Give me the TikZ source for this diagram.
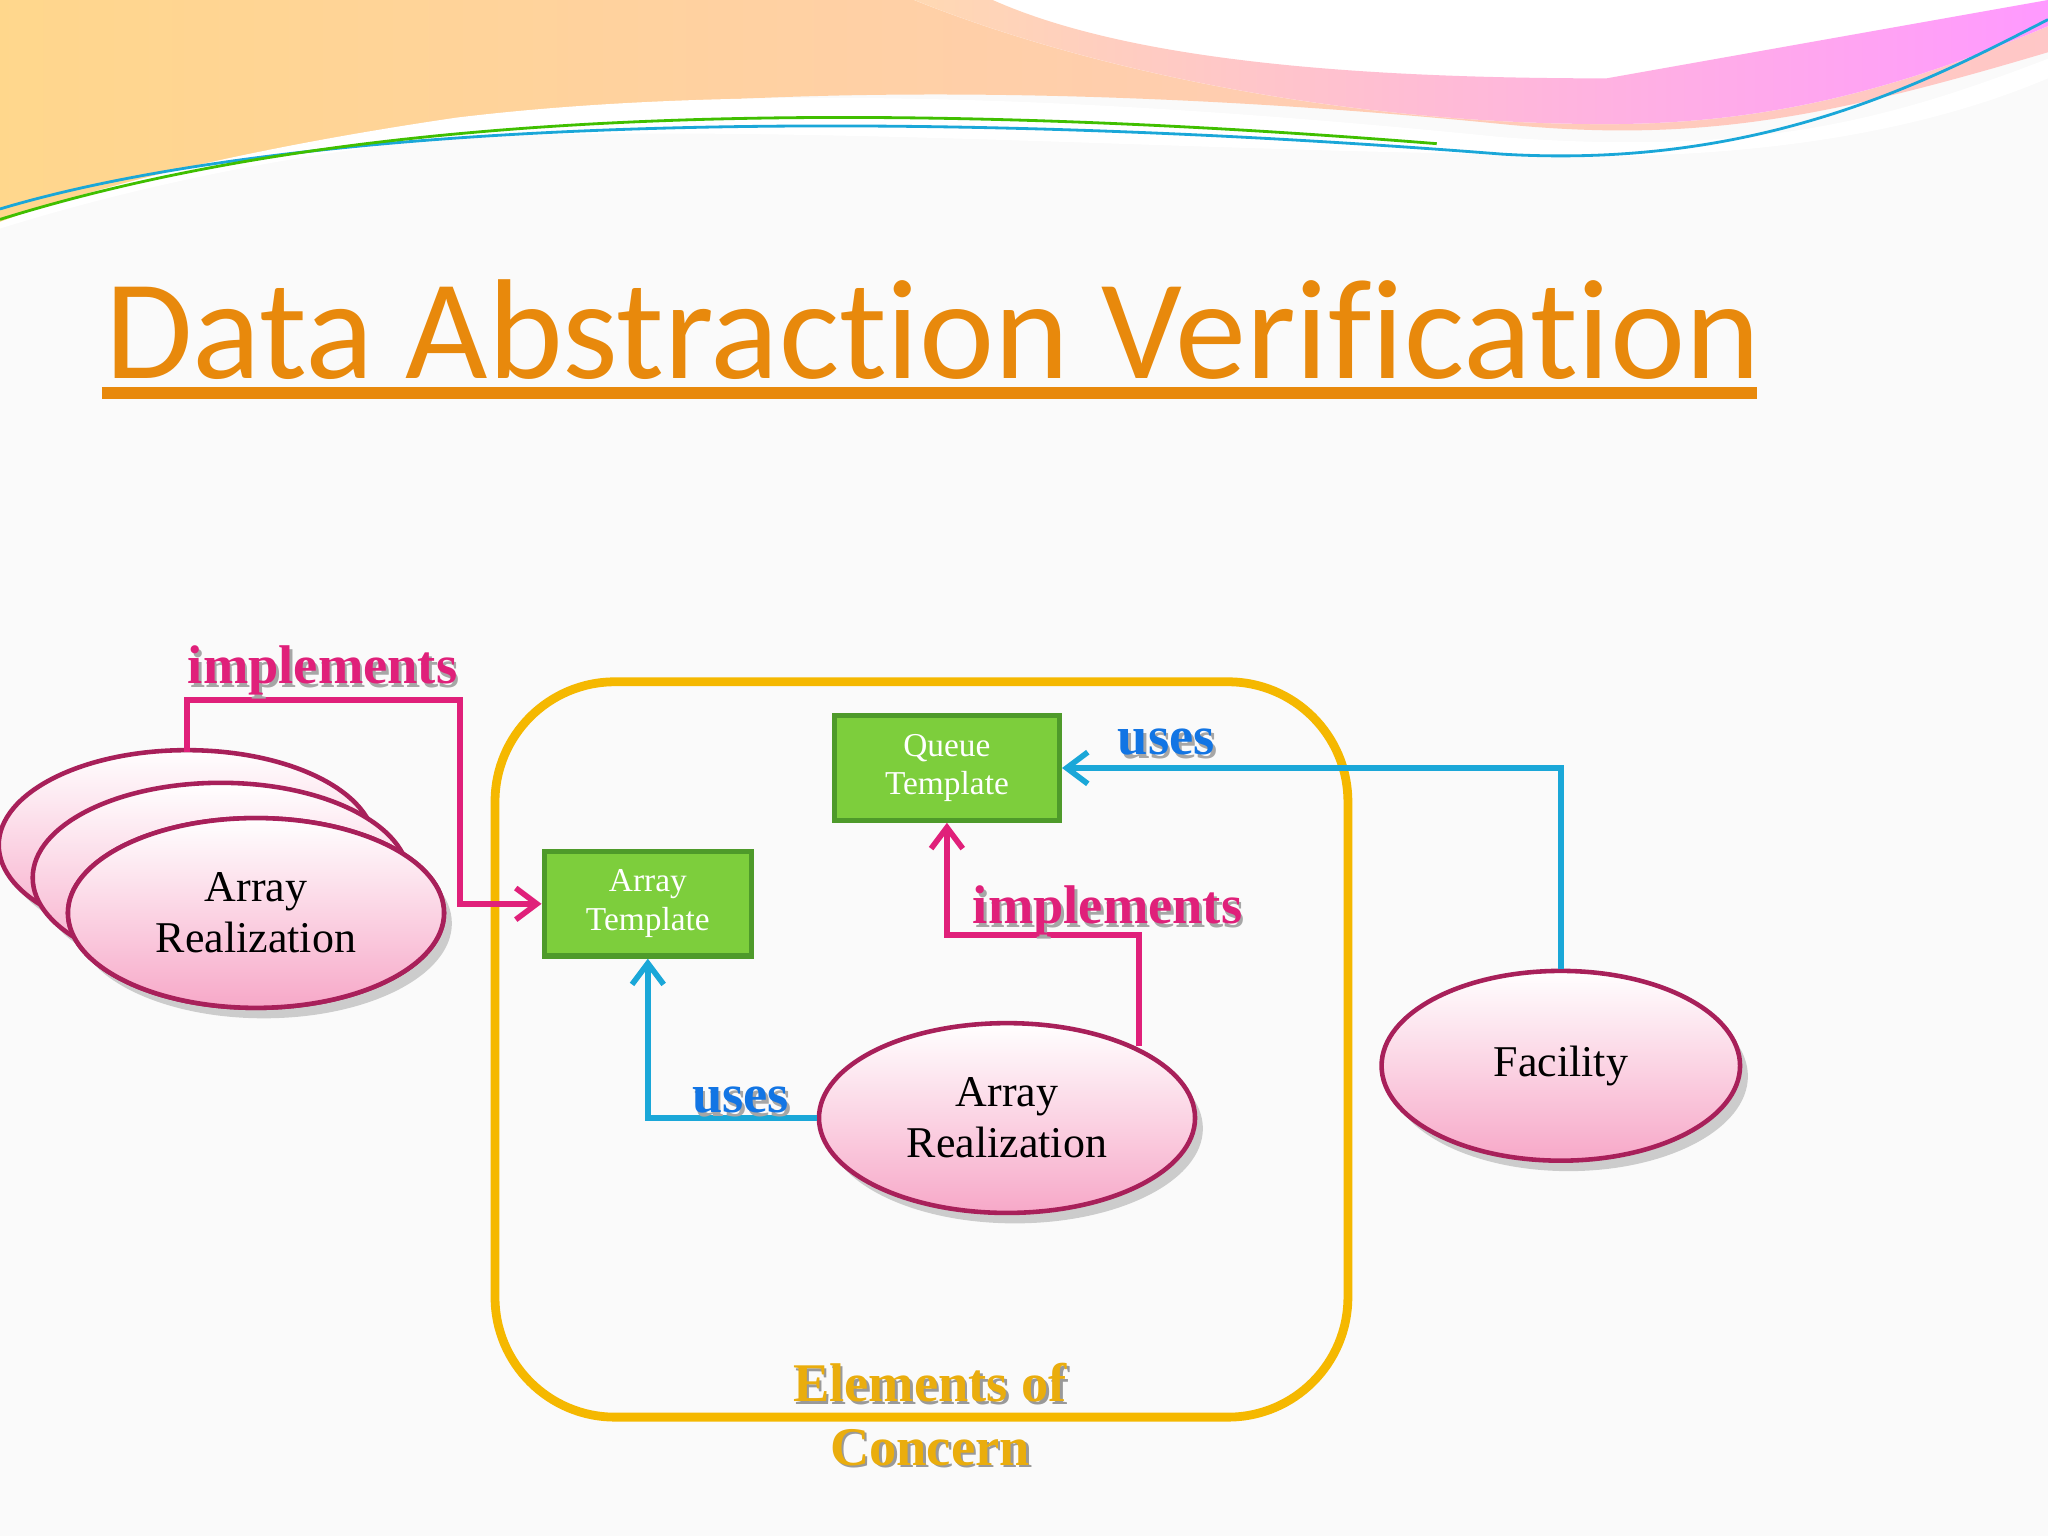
\documentclass[tikz,border=0pt]{standalone}
\usepackage{fontspec}
\setmainfont{Liberation Serif}
\newfontfamily\titlefont[Ligatures=NoCommon]{Carlito}
\usetikzlibrary{shapes.geometric,arrows.meta}
\definecolor{ttl}{HTML}{E8890C}
\definecolor{pk}{HTML}{E0207A}
\definecolor{bl}{HTML}{1AA7D8}
\definecolor{gr}{HTML}{7DCE3C}
\definecolor{grd}{HTML}{4E9A2A}
\definecolor{yl}{HTML}{F5B800}
\definecolor{ebd}{HTML}{A8205A}
\definecolor{epk}{HTML}{F7A8C8}
\tikzset{
 ell/.style={ellipse,draw=ebd,line width=1.3pt,top color=white,bottom color=epk,inner sep=0pt,minimum width=#1,align=center,font=\fontsize{12.5}{14.5}\selectfont},
 shad/.style={ellipse,fill=black,opacity=0.18,inner sep=0pt,minimum width=#1},
 box/.style={rectangle,draw=grd,line width=1.5pt,fill=gr,text=white,align=center,font=\fontsize{9.5}{11}\selectfont,inner sep=0pt},
 pkl/.style={draw=pk,line width=1.6pt,-{Straight Barb[length=6pt,width=9pt]}},
 bll/.style={draw=bl,line width=1.6pt,-{Straight Barb[length=6pt,width=9pt]}},
 lab/.style={font=\bfseries\fontsize{15.5}{17}\selectfont},
}
\begin{document}
\begin{tikzpicture}[x=0.013061cm,y=-0.013061cm]
\useasboundingbox (0,0) rectangle (1568,1176);
\fill[white!96!gray] (0,0) rectangle (1568,1176);
% top waves
\shade[left color=yellow!30!orange!45,right color=pink!60!red!40] (0,0) -- (1568,0) -- (1568,40) .. controls (1400,90) and (1300,110) .. (1150,95) .. controls (900,70) and (600,60) .. (350,95) .. controls (200,115) and (80,140) .. (0,170) -- cycle;
\fill[white] (700,0) .. controls (850,60) and (1050,95) .. (1230,95) .. controls (1350,95) and (1450,70) .. (1568,20) -- (1568,0) -- cycle;
\shade[left color=orange!30,right color=magenta!40] (700,0) .. controls (850,60) and (1050,95) .. (1230,95) .. controls (1350,95) and (1450,70) .. (1568,20) -- (1568,0) -- (1230,60) .. controls (1000,60) and (850,40) .. (760,0) -- cycle;
\fill[white] (0,170) .. controls (80,140) and (200,112) .. (350,90) .. controls (600,60) and (900,80) .. (1150,105) .. controls (1350,120) and (1450,90) .. (1568,45) -- (1568,60) .. controls (1450,110) and (1300,125) .. (1150,118) .. controls (900,115) and (600,95) .. (350,105) .. controls (200,120) and (80,150) .. (0,175) -- cycle;
\draw[bl,line width=0.8pt] (0,160) .. controls (200,100) and (600,75) .. (1150,118) .. controls (1350,130) and (1480,60) .. (1568,15);
\draw[green!50!olive,line width=0.8pt] (0,168) .. controls (250,90) and (600,70) .. (1100,110);
% title
\node[anchor=base west,inner sep=0,text=ttl,font=\titlefont\fontsize{40.5}{46}\selectfont] (title) at (80,290) {Data Abstraction Verification};
\draw[ttl,line width=3.5pt] (78,301) -- (1345,301);
% container
\draw[yl,line width=2.5pt,rounded corners=1.2cm] (379,522) rectangle (1032,1085);
\node[font=\bfseries\fontsize{15.5}{18}\selectfont,text=black!40,align=center] at (714,1085) {Elements of\\Concern};
\node[font=\bfseries\fontsize{15.5}{18}\selectfont,text=yl!80!brown,align=center] (eoc) at (712,1083) {Elements of\\Concern};
% boxes
\node[box,minimum width=64pt,minimum height=29.7pt] (qt) at (725,588) {Queue\\Template};
\node[box,minimum width=59pt,minimum height=29.7pt] (at) at (496,692) {Array\\Template};
% ellipses
\foreach \cx/\cy in {143/647,169/672,196/699}{
 \node[shad=107pt,minimum height=54pt] at (\cx+6,\cy+8) {};
 \node[ell=107pt,minimum height=54pt] at (\cx,\cy) {};
}
\node[ell=107pt,minimum height=54pt] (ar1) at (196,699) {Array\\Realization};
\node[shad=107pt,minimum height=54pt] at (777,864) {};
\node[ell=107pt,minimum height=54pt] (ar2) at (771,856) {Array\\Realization};
\node[shad=102pt,minimum height=54pt] at (1201,824) {};
\node[ell=102pt,minimum height=54pt] (fac) at (1195,816) {Facility};
% connectors
\draw[pkl] (143,576) |- (352,536) |- (at.west);
\node[lab,text=black!35] at (249,516) {implements};
\node[lab,text=pk] (l1) at (247,513) {implements};
\draw[pkl] (872,801) |- (725,716) -- (qt.south);
\node[lab,text=black!35] at (850,700) {implements};
\node[lab,text=pk] (l2) at (848,697) {implements};
\draw[bll] (ar2.west) -| (at.south);
\node[lab,text=black!35] at (569,845) {uses};
\node[lab,text=bl!70!blue] (l3) at (567,842) {uses};
\draw[bll] (fac.north) |- (qt.east);
\node[lab,text=black!35] at (895,571) {uses};
\node[lab,text=bl!70!blue] (l4) at (893,568) {uses};
\end{tikzpicture}
\end{document}
